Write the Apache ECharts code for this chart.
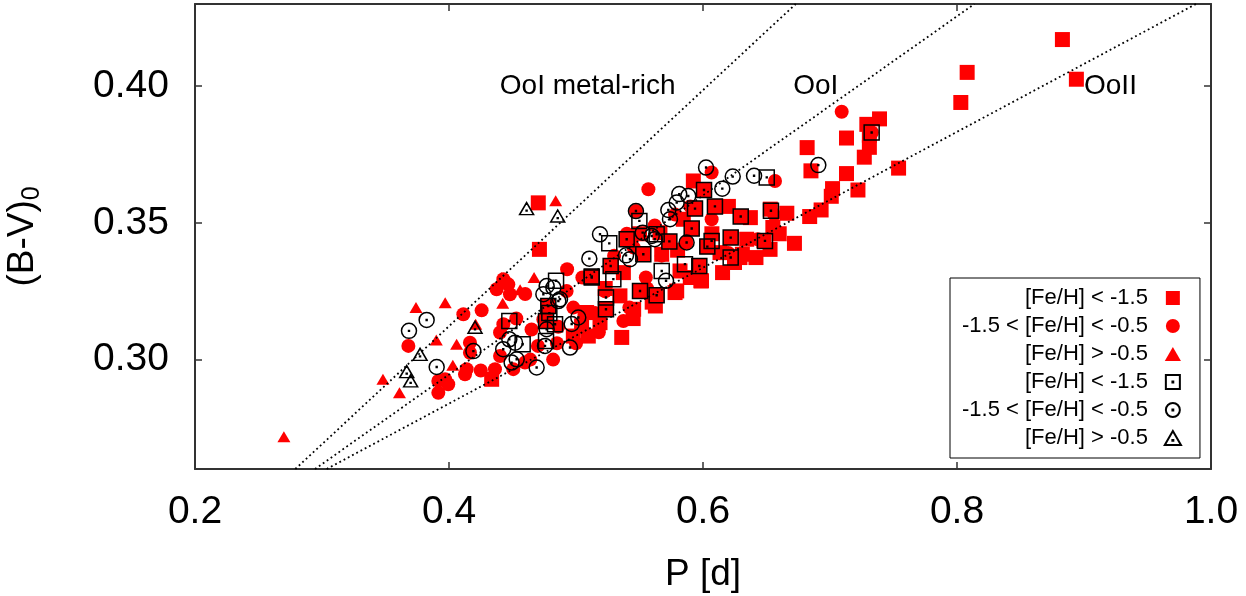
<!DOCTYPE html>
<html><head><meta charset="utf-8">
<script src="https://cdn.jsdelivr.net/npm/echarts@6/dist/echarts.min.js"></script>
<style>html,body{margin:0;padding:0;background:#fff}#c{width:1246px;height:596px}</style>
</head><body><div id="c"></div>
<script>
// ---------- data ----------
const legendLabels = ['[Fe/H] < -1.5', '-1.5 < [Fe/H] < -0.5', '[Fe/H] > -0.5'];
const xTicks = [0.2, 0.4, 0.6, 0.8, 1.0];
const yTicks = [0.30, 0.35, 0.40];

const redSquares = [
[0.883,0.417],[0.808,0.405],[0.894,0.4025],[0.803,0.394],[0.739,0.388],[0.729,0.386],[0.731,0.382],[0.713,0.381],[0.682,0.3775],[0.731,0.3776],[0.727,0.374],[0.685,0.369],[0.713,0.368],[0.754,0.370],[0.702,0.3625],[0.722,0.362],[0.701,0.3597],[0.693,0.3547],[0.684,0.3523],[0.666,0.3535],[0.655,0.3483],[0.672,0.3425],[0.653,0.355],[0.648,0.3435],
[0.6373,0.3519],[0.6528,0.3403],[0.6417,0.3373],[0.6310,0.3385],[0.6248,0.3355],[0.6154,0.3318],[0.5983,0.3288],[0.5780,0.3245],[0.5625,0.3196],[0.5454,0.3184],[0.5360,0.3081],[0.5189,0.3135],
[0.5924,0.3653],[0.6008,0.362],[0.5937,0.3552],[0.6297,0.3523],[0.5845,0.3513],[0.5661,0.3464],[0.5399,0.344],[0.5735,0.3432],[0.6218,0.3446],[0.6344,0.344],[0.6034,0.3413],[0.6134,0.3391],[0.553,0.3385],[0.5675,0.3385],[0.6291,0.3373],[0.5273,0.3342],[0.5971,0.3342],[0.5819,0.3324],[0.5124,0.3304],[0.5373,0.3318],[0.5988,0.3288],[0.5793,0.3251],[0.5504,0.3251],[0.5635,0.3235],[0.5346,0.3233],[0.5236,0.3184],[0.5084,0.3172],
[0.4703,0.3573],[0.4712,0.3403],[0.4336,0.2928],[0.5071,0.3172],[0.5097,0.3086],[0.4782,0.3196],[0.4764,0.3141],[0.5044,0.3123],[0.4979,0.3086],[0.5124,0.330],[0.6094,0.356],[0.5911,0.3479],[0.590,0.330],[0.560,0.321],[0.545,0.315],[0.607,0.346],[0.620,0.356],[0.660,0.346],[0.550,0.346],[0.580,0.340],[0.523,0.326]
];
const redCircles = [
[0.368,0.305],[0.4113,0.3166],[0.4257,0.318],[0.4165,0.3062],[0.4139,0.2965],[0.4126,0.2946],[0.3916,0.2922],[0.3916,0.2879],[0.3994,0.291],[0.4375,0.3257],[0.4467,0.3275],[0.448,0.3239],[0.4402,0.3099],[0.4402,0.3013],[0.4362,0.2965],[0.4506,0.2965],[0.4598,0.2989],[0.4743,0.3147],[0.4926,0.3251],[0.4428,0.3294],[0.4428,0.3129],[0.4165,0.3025],[0.3969,0.2928],[0.425,0.296],[0.4979,0.319],[0.465,0.311],[0.470,0.305],[0.486,0.312],[0.464,0.300],[0.482,0.300],[0.500,0.306],[0.518,0.310],[0.515,0.317],[0.523,0.325],[0.530,0.338],[0.5373,0.3141],[0.5454,0.341],[0.557,0.3623],[0.5472,0.3543],[0.587,0.3428],[0.6068,0.3684],[0.6068,0.3513],[0.5675,0.338],[0.555,0.330],[0.6567,0.3653],[0.7092,0.3906],[0.656,0.353],[0.733,0.383],[0.540,0.346],[0.562,0.349],[0.578,0.353],[0.590,0.356],[0.620,0.339],[0.643,0.344],[0.493,0.333],[0.505,0.330],[0.556,0.326],[0.542,0.319],[0.460,0.324],[0.485,0.306],[0.453,0.315]
];
const redTriangles = [
[0.270,0.2718],[0.348,0.2928],[0.361,0.2879],[0.374,0.319],[0.397,0.3208],[0.390,0.3072],[0.406,0.3056],[0.403,0.2979],[0.421,0.3129],[0.4415,0.330],[0.456,0.3255],[0.4423,0.3206],[0.467,0.330],[0.484,0.3581]
];
const openSquares = [
[0.7328,0.383],[0.6535,0.3544],[0.6502,0.3666],[0.6488,0.3434],[0.6008,0.362],[0.6094,0.356],[0.6297,0.3523],[0.5937,0.3552],[0.5499,0.3507],[0.5911,0.3479],[0.5399,0.344],[0.5262,0.3425],[0.5635,0.3458],[0.5735,0.3432],[0.6218,0.3446],[0.6068,0.3434],[0.6034,0.3413],[0.553,0.3385],[0.5273,0.3342],[0.5124,0.3304],[0.5294,0.3294],[0.5858,0.3349],[0.5971,0.3342],[0.6218,0.3373],[0.5675,0.3324],[0.5504,0.3251],[0.5635,0.3235],[0.5236,0.3227],[0.5236,0.3184],[0.4843,0.3288],[0.4475,0.3141],[0.458,0.3056],[0.4782,0.3196],[0.4764,0.3141],[0.4835,0.3129],[0.4764,0.3068],[0.5124,0.330],[0.479,0.317]
];
const openCircles = [
[0.3685,0.3105],[0.3824,0.3145],[0.3903,0.2973],[0.4192,0.3031],[0.4475,0.3074],[0.452,0.3062],[0.4427,0.3038],[0.4493,0.2989],[0.4533,0.3001],[0.469,0.2971],[0.4756,0.305],[0.4953,0.3044],[0.4769,0.3111],[0.5018,0.3154],[0.4743,0.3239],[0.4822,0.3263],[0.4874,0.3221],[0.4769,0.3269],[0.4861,0.3214],[0.5105,0.3369],[0.5189,0.3458],[0.4966,0.313],[0.6024,0.3702],[0.6234,0.3669],[0.6402,0.3672],[0.6152,0.3625],[0.5813,0.3605],[0.5884,0.3598],[0.5793,0.3574],[0.5727,0.3547],[0.5472,0.3543],[0.574,0.3513],[0.5525,0.3464],[0.5596,0.3452],[0.562,0.344],[0.5871,0.3428],[0.5394,0.3381],[0.5425,0.3367],[0.5709,0.3288],[0.6908,0.3711]
];
const openTriangles = [
[0.3772,0.3019],[0.3667,0.2956],[0.3698,0.2922],[0.4205,0.3118],[0.4611,0.3552],[0.4856,0.3525]
];
// reference relations (end points)
const lineOoIMR = [[0.279,0.26],[0.673,0.43]];
const lineOoI   = [[0.2945,0.26],[0.8137,0.43]];
const lineOoII  = [[0.3037,0.26],[0.9882,0.43]];
const relNames = ['OoI metal-rich', 'OoI', 'OoII'];
const relLabelP = [0.44, 0.671, 0.90];
const relLabelBV = [0.40, 0.40, 0.40];

// ---------- chart ----------
const FONT = 'Liberation Sans';
const RED = '#ff0000';
const AX = '#333';
const SQ_F = 'path://M0,0H20V20H0Z';
const TR_F = 'path://M10,0L20,17.3L0,17.3Z';
const SQ_O = 'path://M0,0H20V20H0Z M9.4,9.4H10.6V10.6H9.4Z';
const CI_O = 'path://M10,0A10,10,0,1,1,10,20A10,10,0,1,1,10,0Z M9.4,9.4H10.6V10.6H9.4Z';
const TR_O = 'path://M10,0L20,17.3L0,17.3Z M9.4,11H10.6V12.2H9.4Z';
const hidden = '\u200b';
const openNames = legendLabels.map(s => s + hidden);

const chart = echarts.init(document.getElementById('c'), null, {renderer: 'canvas'});
const axisCommon = {
  type: 'value',
  axisLine: {show: true, onZero: false, lineStyle: {color: AX, width: 2}},
  axisTick: {show: true, inside: true, length: 7, lineStyle: {color: AX, width: 1.5}},
  splitLine: {show: false}
};
function filled(name, data, symbol, size) {
  return {type: 'scatter', name, data, symbol, symbolSize: size, z: 2,
    itemStyle: {color: RED, opacity: 1}, emphasis: {disabled: true}};
}
function hollow(name, data, symbol, size) {
  return {type: 'scatter', name, data, symbol, symbolSize: size, z: 3,
    itemStyle: {color: 'rgba(0,0,0,0)', borderColor: '#000', borderWidth: 1.5, opacity: 1}, emphasis: {disabled: true}};
}
function rel(data) {
  return {type: 'line', data, symbol: 'none', silent: true, z: 4,
    lineStyle: {color: '#000', width: 1.8, type: [1.8, 3], opacity: 1}};
}
chart.setOption({
  animation: false,
  backgroundColor: '#fff',
  grid: {left: 195, right: 35, top: 4, bottom: 127, containLabel: false, outerBoundsMode: 'none'},
  xAxis: [
    Object.assign({}, axisCommon, {min: 0.2, max: 1.0, interval: 0.2, position: 'bottom',
      axisLabel: {fontSize: 39, fontFamily: FONT, color: '#000', margin: 24, formatter: v => v.toFixed(1)},
      name: 'P [d]', nameLocation: 'middle', nameGap: 87,
      nameTextStyle: {fontSize: 37, fontFamily: FONT, color: '#000'}}),
    Object.assign({}, axisCommon, {min: 0.2, max: 1.0, interval: 0.2, position: 'top', axisLabel: {show: false}})
  ],
  yAxis: [
    Object.assign({}, axisCommon, {min: 0.26, max: 0.43, position: 'left',
      axisTick: Object.assign({}, axisCommon.axisTick, {customValues: yTicks}),
      axisLabel: {fontSize: 39, fontFamily: FONT, color: '#000', margin: 26, customValues: yTicks, formatter: v => v.toFixed(2)},
      name: '(B-V){s|0}', nameLocation: 'middle', nameRotate: 90, nameGap: 150,
      nameTextStyle: {fontSize: 37, fontFamily: FONT, color: '#000',
        rich: {s: {fontSize: 25, fontFamily: FONT, color: '#000', padding: [20, 0, 0, 0]}}}}),
    Object.assign({}, axisCommon, {min: 0.26, max: 0.43, position: 'right',
      axisTick: Object.assign({}, axisCommon.axisTick, {customValues: yTicks}),
      axisLabel: {show: false}})
  ],
  legend: {
    data: legendLabels.concat(openNames),
    orient: 'vertical', align: 'right',
    left: 950, top: 278,
    padding: [9, 18, 9, 12],
    itemWidth: 40, itemHeight: 14, itemGap: 6,
    borderColor: '#000', borderWidth: 1, borderRadius: 0,
    selectedMode: false,
    formatter: n => n.replace(hidden, ''),
    textStyle: {fontSize: 22, fontFamily: FONT, color: '#000', lineHeight: 22}
  },
  series: [
    filled(legendLabels[0], redSquares, SQ_F, 15),
    filled(legendLabels[1], redCircles, 'circle', 14),
    filled(legendLabels[2], redTriangles, TR_F, [13, 11]),
    hollow(openNames[0], openSquares, SQ_O, 15),
    hollow(openNames[1], openCircles, CI_O, 15),
    hollow(openNames[2], openTriangles, TR_O, [14, 12]),
    rel(lineOoIMR), rel(lineOoI), rel(lineOoII),
    {type: 'scatter', silent: true, symbolSize: 0, z: 5,
      itemStyle: {opacity: 1},
      data: relNames.map((n, i) => ({name: n, value: [relLabelP[i], relLabelBV[i]]})),
      label: {show: true, position: 'right', distance: 0, formatter: p => p.name,
        fontSize: 28, fontFamily: FONT, color: '#000', opacity: 1}}
  ]
});
</script></body></html>
